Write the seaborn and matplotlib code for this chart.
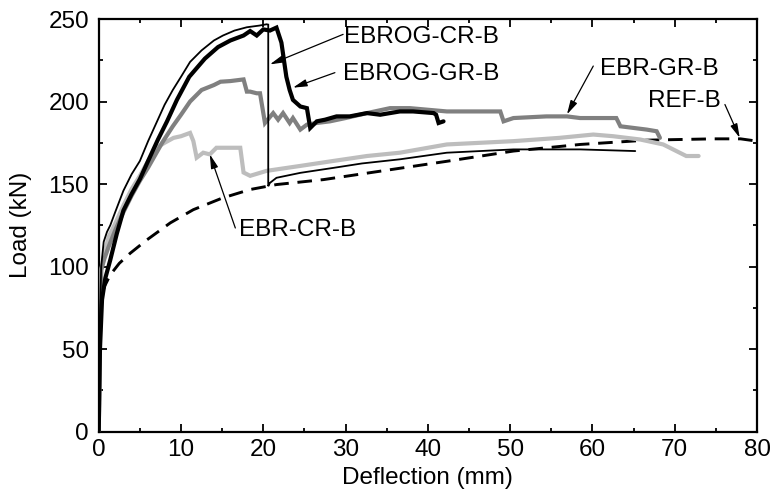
import matplotlib
matplotlib.use("Agg")
import matplotlib.pyplot as plt
import seaborn as sns
import pandas as pd

# ---------------- data ----------------
ebrog_cr_x = [0, 0.1, 0.3, 0.6, 1.0, 1.4, 2.0, 3.0, 4.0, 5.0, 6.0, 7.0, 8.0, 9.0, 10.0,
              11.1, 12.5, 14.0, 15.1, 16.5, 18.0, 19.5, 20.4, 20.6, 20.6, 20.8, 21.6,
              24.5, 28.5, 32.0, 36.6, 42.3, 50.4, 58.5, 65.2]
ebrog_cr_y = [0, 60, 100, 115, 121, 125, 133, 146, 156, 164, 176, 187, 198, 207, 215,
              224, 231, 237, 240, 243, 245, 246, 246.8, 246.6, 148.7, 150.7, 153.8,
              156.8, 159.8, 162.5, 165, 169, 171, 171, 170]

ebrog_gr_x = [0, 0.15, 0.4, 0.8, 1.4, 2.2, 3.0, 4.0, 5.0, 6.0, 7.2, 8.3, 9.5, 11.0,
              12.9, 14.5, 16.0, 17.6, 18.4, 19.2, 20.0, 20.8, 21.6, 22.2, 22.8, 23.2,
              23.6, 24.5, 25.3, 25.5, 25.7, 26.5, 27.5, 28.9, 30.5, 32.6, 34.2, 36.6,
              38.2, 40.7, 41.0, 41.3, 41.9]
ebrog_gr_y = [0, 50, 80, 93, 104, 120, 134, 144, 153, 164, 177, 188, 201, 215,
              226, 233, 237, 240, 242.7, 240, 243.7, 243, 244.8, 235.7, 215, 207,
              201, 197, 196, 190, 184, 188, 189, 191, 191, 193, 192, 194,
              194, 193, 192, 187, 188]

ebr_gr_x = [0, 0.15, 0.3, 0.7, 1.2, 2.0, 3.0, 4.0, 5.0, 6.0, 7.7, 9.0, 10.0, 11.1,
            12.5, 14.0, 14.8, 16.0, 17.6, 18.0, 18.4, 19.2, 19.6, 20.2, 21.2, 21.8,
            22.4, 23.2, 23.6, 24.5, 25.3, 26.5, 28.1, 30.0, 32.6, 35.4, 37.8, 42.3,
            48.8, 49.2, 50.4, 54.4, 56.9, 58.5, 62.9, 63.4, 66.6, 67.8, 68.2]
ebr_gr_y = [0, 60, 98, 105, 112, 122, 133, 143, 152, 160, 175, 185, 192, 200,
            207, 210, 212, 212.4, 213.4, 206, 206, 205, 205, 187, 193, 189,
            193, 187, 190, 183, 186, 187, 188, 190, 193, 196, 196, 194,
            194, 188, 190, 191, 191, 190, 190, 185, 183, 182, 178]

ebr_cr_x = [0, 0.15, 0.3, 0.7, 1.2, 2.0, 3.0, 4.0, 5.0, 6.0, 7.0, 8.0, 9.1, 10.0,
            11.1, 11.5, 11.9, 12.7, 13.5, 14.3, 16.4, 17.2, 17.6, 18.4, 20.4, 24.5,
            28.5, 32.6, 36.6, 42.3, 50.4, 56.0, 60.1, 62.5, 65.8, 68.6, 69.8, 71.4, 72.9]
ebr_cr_y = [0, 60, 98, 108, 118, 126, 137, 147, 155, 164, 172, 175, 178, 179,
            181, 176, 166, 169, 168, 172, 172, 172, 157, 155, 158, 161,
            164, 167, 169, 174, 176, 178, 180, 179, 177, 174, 171, 167, 167]

ref_x = [0, 0.1, 0.3, 0.7, 1.4, 2.5, 3.8, 5.8, 8.7, 11.5, 15.0, 18.4, 21.6, 27.3,
         34.2, 42.3, 50.4, 58.5, 66.6, 74.7, 78.0, 80.0, 80.5]
ref_y = [0, 60, 82, 88, 95, 102, 108, 116, 126.5, 134.5, 141.5, 146.7, 149.7, 152.7,
         157.8, 163.8, 170, 174, 176.6, 177.4, 177.4, 176, 173]

x_ticks = [0, 10, 20, 30, 40, 50, 60, 70, 80]
y_ticks = [0, 50, 100, 150, 200, 250]

labels = ["EBROG-CR-B", "EBROG-GR-B", "EBR-GR-B", "REF-B", "EBR-CR-B"]
label_pos = [(29.8, 238.8), (29.7, 216.4), (60.9, 219.5), (66.8, 200.2), (17.0, 122.4)]
arrow_start = [(29.7, 240.7), (28.7, 217.5), (60.1, 221.5), (76.1, 198.2), (16.6, 123.4)]
arrow_tip = [(20.8, 222.5), (23.6, 208.4), (56.9, 192.2), (77.9, 178.0), (13.5, 168.0)]

# ---------------- plotting ----------------
sns.set_theme(style="ticks")
plt.rcParams["font.family"] = ["Liberation Sans", "DejaVu Sans"]

fig = plt.figure(figsize=(7.75, 5.04), dpi=100)
ax = fig.add_axes([0.1274, 0.1435, 0.8494, 0.8188])

def draw(x, y, color, lw, ls="-", z=2):
    df = pd.DataFrame({"x": x, "y": y})
    sns.lineplot(data=df, x="x", y="y", sort=False, estimator=None, ax=ax,
                 color=color, lw=lw, ls=ls, zorder=z, solid_joinstyle="miter")

draw(ref_x, ref_y, "black", 2.1, (0, (5, 3)), 2)
draw(ebr_cr_x, ebr_cr_y, "#bdbdbd", 3.0, "-", 3)
draw(ebr_gr_x, ebr_gr_y, "#808080", 3.0, "-", 4)
draw(ebrog_gr_x, ebrog_gr_y, "black", 3.0, "-", 5)
draw(ebrog_cr_x, ebrog_cr_y, "black", 1.3, "-", 6)

for lab, tp, s, t in zip(labels, label_pos, arrow_start, arrow_tip):
    ax.text(tp[0], tp[1], lab, ha="left", va="center", fontsize=17.5, color="black")
    ax.annotate("", xy=t, xytext=s,
                arrowprops=dict(arrowstyle="-|>,head_length=0.7,head_width=0.18",
                                lw=0.9, color="black", shrinkA=0, shrinkB=0,
                                mutation_scale=12))

ax.set_xlim(0, 80)
ax.set_ylim(0, 250)
ax.set_xticks(x_ticks)
ax.set_yticks(y_ticks)
ax.set_xticks([5, 15, 25, 35, 45, 55, 65, 75], minor=True)
ax.set_yticks([25, 75, 125, 175, 225], minor=True)
ax.tick_params(which="both", direction="in", top=True, right=True, width=1.3,
               color="black", labelsize=17.5, labelcolor="black")
ax.tick_params(which="major", length=6)
ax.tick_params(which="minor", length=3)
ax.tick_params(axis="x", which="major", pad=5)
ax.tick_params(axis="y", which="major", pad=7)
for sp in ax.spines.values():
    sp.set_linewidth(1.6)
    sp.set_color("black")
    sp.set_visible(True)

ax.set_xlabel("Deflection (mm)", fontsize=17.5, color="black")
ax.set_ylabel("Load (kN)", fontsize=17.5, color="black")
ax.xaxis.set_label_coords(0.5, -0.085)
ax.yaxis.set_label_coords(-0.102, 0.5)

fig.savefig("out.png", dpi=100)
